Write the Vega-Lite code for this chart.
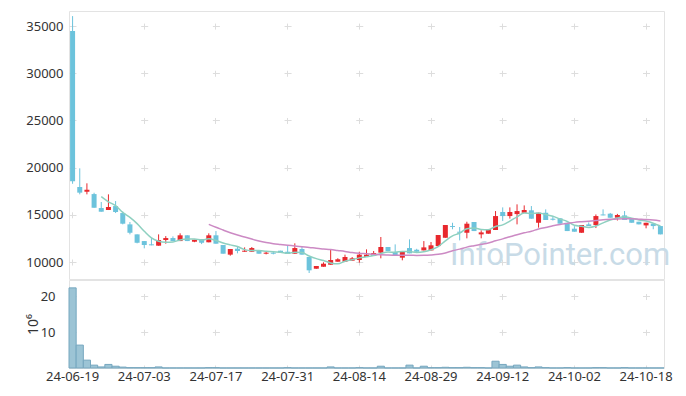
{
"$schema": "https://vega.github.io/schema/vega-lite/v6.json",
"padding": {"left": 25, "top": 10, "right": 0, "bottom": 0},
"background": "white",
"config": {"font": "Noto Sans", "view": {"stroke": "#e3e3e3"},
  "axis": {"labelFont": "Noto Sans", "labelFontSize": 13, "labelColor": "#333", "titleColor": "#333", "gridColor": "#dddddd", "domain": false, "ticks": false}},
"data": {"values": [
{"d":"24-06-19","o":34470,"h":36060,"l":18290,"c":18550,"v":22.4,"m5":null,"m20":null},
{"d":"24-06-20","o":17950,"h":19925,"l":17170,"c":17350,"v":6.4,"m5":null,"m20":null},
{"d":"24-06-21","o":17450,"h":18340,"l":17170,"c":17660,"v":2.2,"m5":null,"m20":null},
{"d":"24-06-24","o":17200,"h":17340,"l":15750,"c":15750,"v":0.8,"m5":null,"m20":null},
{"d":"24-06-25","o":15720,"h":16360,"l":15330,"c":15330,"v":0.3,"m5":16928,"m20":null},
{"d":"24-06-26","o":15510,"h":17170,"l":15510,"c":15830,"v":1.0,"m5":16384,"m20":null},
{"d":"24-06-27","o":15930,"h":16460,"l":15190,"c":15300,"v":0.5,"m5":15974,"m20":null},
{"d":"24-06-28","o":15190,"h":15330,"l":13990,"c":14060,"v":0.25,"m5":15254,"m20":null},
{"d":"24-07-01","o":13990,"h":14240,"l":12930,"c":13100,"v":0.1,"m5":14724,"m20":null},
{"d":"24-07-02","o":12930,"h":12930,"l":11980,"c":12040,"v":0.1,"m5":14066,"m20":null},
{"d":"24-07-03","o":12220,"h":12220,"l":11450,"c":11800,"v":0.1,"m5":13260,"m20":null},
{"d":"24-07-04","o":11875,"h":12570,"l":11770,"c":11770,"v":0.1,"m5":12554,"m20":null},
{"d":"24-07-05","o":11730,"h":12930,"l":11730,"c":12330,"v":0.3,"m5":12208,"m20":null},
{"d":"24-07-08","o":12330,"h":12750,"l":11940,"c":12540,"v":0.02,"m5":12096,"m20":null},
{"d":"24-07-09","o":12540,"h":12720,"l":12220,"c":12220,"v":0.02,"m5":12132,"m20":null},
{"d":"24-07-10","o":12220,"h":13040,"l":12220,"c":12830,"v":0.02,"m5":12338,"m20":null},
{"d":"24-07-11","o":12830,"h":12830,"l":12220,"c":12220,"v":0.02,"m5":12428,"m20":null},
{"d":"24-07-12","o":12150,"h":12360,"l":12100,"c":12360,"v":0.02,"m5":12434,"m20":null},
{"d":"24-07-15","o":12440,"h":12440,"l":11900,"c":12040,"v":0.02,"m5":12334,"m20":null},
{"d":"24-07-16","o":12090,"h":13040,"l":12090,"c":12830,"v":0.1,"m5":12456,"m20":13990},
{"d":"24-07-17","o":12830,"h":13280,"l":11940,"c":11940,"v":0.1,"m5":12278,"m20":13680},
{"d":"24-07-18","o":11800,"h":11800,"l":10880,"c":10880,"v":0.02,"m5":12010,"m20":13390},
{"d":"24-07-19","o":10780,"h":11380,"l":10670,"c":11380,"v":0.02,"m5":11814,"m20":13100},
{"d":"24-07-22","o":11410,"h":11690,"l":10920,"c":11170,"v":0.02,"m5":11640,"m20":12860},
{"d":"24-07-23","o":11090,"h":11550,"l":11090,"c":11200,"v":0.02,"m5":11314,"m20":12650},
{"d":"24-07-24","o":11090,"h":11590,"l":11090,"c":11480,"v":0.02,"m5":11222,"m20":12430},
{"d":"24-07-25","o":11230,"h":11230,"l":10880,"c":10880,"v":0.02,"m5":11222,"m20":12220},
{"d":"24-07-26","o":10880,"h":11170,"l":10810,"c":10990,"v":0.02,"m5":11144,"m20":12060},
{"d":"24-07-29","o":10990,"h":11170,"l":10810,"c":10880,"v":0.02,"m5":11086,"m20":11940},
{"d":"24-07-30","o":11200,"h":11200,"l":10990,"c":10990,"v":0.02,"m5":11044,"m20":11860},
{"d":"24-07-31","o":11090,"h":11770,"l":10850,"c":10850,"v":0.1,"m5":10918,"m20":11780},
{"d":"24-08-01","o":10880,"h":11980,"l":10880,"c":11480,"v":0.02,"m5":11038,"m20":11700},
{"d":"24-08-02","o":11380,"h":11590,"l":10780,"c":10780,"v":0.02,"m5":10996,"m20":11620},
{"d":"24-08-05","o":10530,"h":10530,"l":8835,"c":9120,"v":0.02,"m5":10644,"m20":11550},
{"d":"24-08-06","o":9290,"h":9580,"l":9290,"c":9580,"v":0.02,"m5":10362,"m20":11450},
{"d":"24-08-07","o":9500,"h":9970,"l":9500,"c":9820,"v":0.02,"m5":10156,"m20":11380},
{"d":"24-08-08","o":9710,"h":11340,"l":9710,"c":10210,"v":0.3,"m5":9902,"m20":11320},
{"d":"24-08-09","o":10030,"h":10400,"l":10030,"c":10290,"v":0.02,"m5":9804,"m20":11220},
{"d":"24-08-12","o":10030,"h":10780,"l":10030,"c":10530,"v":0.02,"m5":10086,"m20":11120},
{"d":"24-08-13","o":10140,"h":10530,"l":10140,"c":10390,"v":0.02,"m5":10248,"m20":11000},
{"d":"24-08-14","o":10210,"h":11090,"l":9930,"c":10780,"v":0.1,"m5":10440,"m20":10920},
{"d":"24-08-16","o":10530,"h":11340,"l":10530,"c":10780,"v":0.02,"m5":10554,"m20":10870},
{"d":"24-08-19","o":10670,"h":11170,"l":10670,"c":10950,"v":0.02,"m5":10686,"m20":10810},
{"d":"24-08-20","o":10990,"h":12650,"l":10390,"c":11590,"v":0.5,"m5":10898,"m20":10770},
{"d":"24-08-21","o":11590,"h":11590,"l":11170,"c":11170,"v":0.02,"m5":11054,"m20":10740},
{"d":"24-08-22","o":11060,"h":11870,"l":10710,"c":10710,"v":0.02,"m5":11040,"m20":10720},
{"d":"24-08-23","o":10460,"h":11170,"l":10180,"c":11170,"v":0.02,"m5":11118,"m20":10710},
{"d":"24-08-26","o":11480,"h":12400,"l":10920,"c":10920,"v":0.8,"m5":11112,"m20":10710},
{"d":"24-08-27","o":11300,"h":11400,"l":11090,"c":11090,"v":0.02,"m5":11012,"m20":10700},
{"d":"24-08-28","o":11230,"h":12220,"l":11230,"c":11550,"v":0.5,"m5":11088,"m20":10710},
{"d":"24-08-29","o":11230,"h":12120,"l":11230,"c":11770,"v":0.1,"m5":11300,"m20":10750},
{"d":"24-08-30","o":11690,"h":12860,"l":11690,"c":12860,"v":0.1,"m5":11638,"m20":10820},
{"d":"24-09-02","o":12570,"h":13920,"l":12570,"c":13920,"v":0.2,"m5":12238,"m20":10960},
{"d":"24-09-03","o":13810,"h":14160,"l":13470,"c":13710,"v":0.1,"m5":12762,"m20":11190},
{"d":"24-09-04","o":13210,"h":13710,"l":12290,"c":13100,"v":0.1,"m5":13072,"m20":11366},
{"d":"24-09-05","o":13100,"h":14270,"l":12510,"c":14060,"v":0.2,"m5":13530,"m20":11578},
{"d":"24-09-06","o":14240,"h":14240,"l":13280,"c":13280,"v":0.1,"m5":13614,"m20":11731},
{"d":"24-09-09","o":12930,"h":13360,"l":12510,"c":13140,"v":0.1,"m5":13458,"m20":11874},
{"d":"24-09-10","o":13000,"h":13500,"l":13000,"c":13500,"v":0.02,"m5":13416,"m20":12022},
{"d":"24-09-11","o":13390,"h":15400,"l":13390,"c":14870,"v":1.9,"m5":13770,"m20":12246},
{"d":"24-09-12","o":15300,"h":15790,"l":14340,"c":14870,"v":1.0,"m5":13932,"m20":12451},
{"d":"24-09-13","o":14870,"h":15790,"l":14600,"c":15300,"v":0.5,"m5":14336,"m20":12677},
{"d":"24-09-19","o":15080,"h":16110,"l":13990,"c":15400,"v":0.8,"m5":14788,"m20":12899},
{"d":"24-09-20","o":15220,"h":16000,"l":15220,"c":15510,"v":0.3,"m5":15190,"m20":13095},
{"d":"24-09-23","o":15480,"h":15930,"l":14590,"c":14590,"v":0.1,"m5":15134,"m20":13266},
{"d":"24-09-24","o":14160,"h":15220,"l":13640,"c":15220,"v":0.3,"m5":15204,"m20":13492},
{"d":"24-09-25","o":15220,"h":15580,"l":14450,"c":14450,"v":0.1,"m5":15034,"m20":13656},
{"d":"24-09-26","o":14590,"h":14800,"l":14400,"c":14480,"v":0.02,"m5":14850,"m20":13834},
{"d":"24-09-27","o":14630,"h":14630,"l":14060,"c":14060,"v":0.02,"m5":14560,"m20":13982},
{"d":"24-09-30","o":14160,"h":14160,"l":13280,"c":13280,"v":0.1,"m5":14298,"m20":14090},
{"d":"24-10-02","o":13530,"h":13800,"l":13210,"c":13210,"v":0.02,"m5":13896,"m20":14200},
{"d":"24-10-04","o":13100,"h":13920,"l":13100,"c":13920,"v":0.02,"m5":13790,"m20":14270},
{"d":"24-10-07","o":13990,"h":14200,"l":13810,"c":13810,"v":0.02,"m5":13656,"m20":14330},
{"d":"24-10-08","o":13920,"h":15040,"l":13600,"c":14870,"v":0.1,"m5":13818,"m20":14400},
{"d":"24-10-10","o":15040,"h":15580,"l":14940,"c":14940,"v":0.1,"m5":14150,"m20":14470},
{"d":"24-10-11","o":15120,"h":15200,"l":14690,"c":14690,"v":0.02,"m5":14446,"m20":14520},
{"d":"24-10-14","o":14690,"h":15100,"l":14400,"c":14980,"v":0.02,"m5":14658,"m20":14560},
{"d":"24-10-15","o":14940,"h":15400,"l":14450,"c":14450,"v":0.1,"m5":14786,"m20":14580},
{"d":"24-10-16","o":14630,"h":14630,"l":14160,"c":14160,"v":0.02,"m5":14644,"m20":14580},
{"d":"24-10-17","o":14270,"h":14270,"l":13990,"c":13990,"v":0.02,"m5":14454,"m20":14540},
{"d":"24-10-18","o":13880,"h":14160,"l":13570,"c":14160,"v":0.02,"m5":14348,"m20":14500},
{"d":"24-10-21","o":14060,"h":14060,"l":13470,"c":13810,"v":0.02,"m5":14114,"m20":14440},
{"d":"24-10-22","o":13810,"h":13810,"l":12930,"c":12930,"v":0.02,"m5":13810,"m20":14340}
]},
"spacing": -3,
"resolve": {"scale": {"x": "shared"}},
"vconcat": [
{
 "width": 595, "height": 268,
 "encoding": {"x": {"field": "d", "type": "ordinal",
   "scale": {"paddingInner": 0, "paddingOuter": 0, "domain": ["24-06-19","24-06-20","24-06-21","24-06-24","24-06-25","24-06-26","24-06-27","24-06-28","24-07-01","24-07-02","24-07-03","24-07-04","24-07-05","24-07-08","24-07-09","24-07-10","24-07-11","24-07-12","24-07-15","24-07-16","24-07-17","24-07-18","24-07-19","24-07-22","24-07-23","24-07-24","24-07-25","24-07-26","24-07-29","24-07-30","24-07-31","24-08-01","24-08-02","24-08-05","24-08-06","24-08-07","24-08-08","24-08-09","24-08-12","24-08-13","24-08-14","24-08-16","24-08-19","24-08-20","24-08-21","24-08-22","24-08-23","24-08-26","24-08-27","24-08-28","24-08-29","24-08-30","24-09-02","24-09-03","24-09-04","24-09-05","24-09-06","24-09-09","24-09-10","24-09-11","24-09-12","24-09-13","24-09-19","24-09-20","24-09-23","24-09-24","24-09-25","24-09-26","24-09-27","24-09-30","24-10-02","24-10-04","24-10-07","24-10-08","24-10-10","24-10-11","24-10-14","24-10-15","24-10-16","24-10-17","24-10-18","24-10-21","24-10-22"]},
   "axis": {"title": null, "labels": false, "ticks": false, "domain": false, "grid": true, "bandPosition": 0.5, "labelPadding": 0, "minExtent": 0, "maxExtent": 0,
     "values": ["24-06-19","24-07-03","24-07-17","24-07-31","24-08-14","24-08-29","24-09-12","24-10-02","24-10-18"],
     "gridDash": [6, 41.18], "gridDashOffset": 35.08}}},
 "layer": [
  {"data": {"values": [{"t": "InfoPointer.com"}]},
   "mark": {"type": "text", "fontSize": 31, "font": "Roboto", "color": "#c8dbe7", "align": "center", "baseline": "middle", "dx": 0, "dy": -1},
   "encoding": {"text": {"field": "t"}, "x": {"datum": "24-09-27"}, "y": {"datum": 10530}}},
  {"mark": {"type": "rule", "strokeWidth": 1},
   "encoding": {
    "y": {"field": "l", "type": "quantitative", "scale": {"domain": [8200, 36600], "nice": false, "zero": false},
      "axis": {"title": null, "values": [10000,15000,20000,25000,30000,35000], "format": "d", "labelPadding": 6,
        "grid": true, "gridDash": [7, 64.69], "gridDashOffset": 0}},
    "y2": {"field": "h"},
    "color": {"condition": {"test": "datum.c > datum.o", "value": "#e8282d"}, "value": "#6cc3dc"}}},
  {"mark": {"type": "bar", "width": 5},
   "encoding": {
    "y": {"field": "o", "type": "quantitative"},
    "y2": {"field": "c"},
    "color": {"condition": {"test": "datum.c > datum.o", "value": "#e8282d"}, "value": "#6cc3dc"}}},
  {"mark": {"type": "line", "interpolate": "monotone", "color": "#8ed0c0", "strokeWidth": 1.5},
   "encoding": {"y": {"field": "m5", "type": "quantitative"}}},
  {"mark": {"type": "line", "interpolate": "monotone", "color": "#cc8ac4", "strokeWidth": 1.5},
   "encoding": {"y": {"field": "m20", "type": "quantitative"}}}
 ]
},
{
 "width": 595, "height": 88,
 "mark": {"type": "bar", "fill": "#9cc4d5", "stroke": "#76a7bf", "strokeWidth": 1},
 "encoding": {
  "x": {"field": "d", "type": "ordinal",
    "axis": {"title": null, "labelAngle": 0, "labelPadding": 2, "grid": true, "bandPosition": 0.5,
      "values": ["24-06-19","24-07-03","24-07-17","24-07-31","24-08-14","24-08-29","24-09-12","24-10-02","24-10-18"],
      "gridDash": [6, 29.77], "gridDashOffset": 22.31}},
  "y": {"field": "v", "type": "quantitative", "scale": {"domain": [0, 24.6], "nice": false},
    "axis": {"title": "10⁶", "titleFontSize": 14, "titleFontWeight": "normal", "titleX": -36, "titleY": 44, "titleAngle": -90, "titleAlign": "center", "titleBaseline": "middle", "values": [10, 20], "labelPadding": 14,
      "grid": true, "gridDash": [7, 64.69], "gridDashOffset": 0}}
 }
}
]
}
